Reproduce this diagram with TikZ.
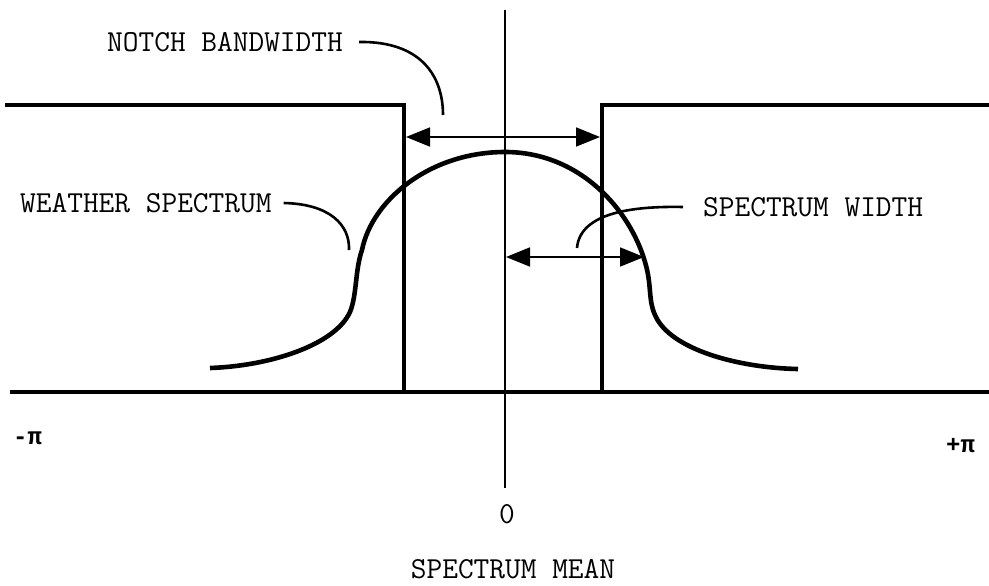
\documentclass[tikz,border=0pt]{standalone}
\usepackage{fontspec}
\newfontfamily\pifont{Liberation Mono}
\usetikzlibrary{arrows.meta}
\begin{document}
\begin{tikzpicture}[x=1pt,y=-1pt,
  lbl/.style={font=\ttfamily\fontsize{30.5}{34}\selectfont, inner sep=0pt},
  pilbl/.style={font=\pifont\bfseries\fontsize{24}{28}\selectfont, inner sep=0pt},
  axis/.style={line width=3.2pt},
  cline/.style={line width=1.8pt},
  leader/.style={line width=2.6pt},
  curvestyle/.style={line width=4.6pt},
  dimarrow/.style={line width=1.8pt, {Triangle[length=24pt,width=19pt]}-{Triangle[length=24pt,width=19pt]}}]
\useasboundingbox (0,0) rectangle (989,586);
% notch filter box
\draw[axis] (5,105) -- (404,105) -- (404,392);
\draw[axis] (602,392) -- (602,105) -- (989,105);
\draw[axis] (10,392) -- (989,392);
% center line
\coordinate (ctop) at (505,10);
\coordinate (cbot) at (505,488);
\draw[cline] (ctop) -- (cbot);
% weather spectrum curve
\draw[curvestyle] (210,368) .. controls (270,366) and (335,345) .. (350,312)
  .. controls (357,295) and (355,270) .. (362,250)
  .. controls (372,200) and (430,152) .. (505,152)
  .. controls (580,152) and (630,210) .. (645,262)
  .. controls (652,285) and (648,300) .. (655,315)
  .. controls (670,350) and (740,368) .. (798,369);
% dimension arrows
\coordinate (nl) at (406,137);
\coordinate (nr) at (600,137);
\draw[dimarrow] (nl) -- (nr);
\coordinate (wl) at (506,257);
\coordinate (wr) at (644,257);
\draw[dimarrow] (wl) -- (wr);
% labels
\node[lbl, anchor=west] (notch) at (107,42) {NOTCH BANDWIDTH};
\node[lbl, anchor=west] (weather) at (20,203) {WEATHER SPECTRUM};
\node[lbl, anchor=west] (width) at (703,207) {SPECTRUM WIDTH};
\node[lbl] (zero) at (507,514) {0};
\node[lbl] (mean) at (513,569) {SPECTRUM MEAN};
\node[pilbl, anchor=west] (mpi) at (13,438) {-π};
\node[pilbl, anchor=west] (ppi) at (946,446) {+π};
% leaders
\coordinate (notchend) at (443,115);
\coordinate (weatherend) at (349,250);
\coordinate (widthend) at (577,248);
\draw[leader] ([xshift=16pt]notch.east) .. controls (420,41) and (443,75) .. (notchend);
\draw[leader] ([xshift=12pt]weather.east) .. controls (330,204) and (350,225) .. (weatherend);
\draw[leader] ([xshift=-20pt]width.west) .. controls (635,206) and (580,212) .. (widthend);
\end{tikzpicture}
\end{document}
